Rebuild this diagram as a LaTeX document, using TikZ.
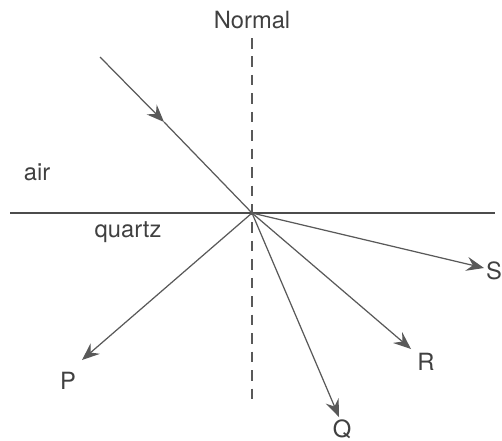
\documentclass[tikz,border=0pt]{standalone}
\usepackage{fontspec}
\setmainfont{TeX Gyre Heros}
\usetikzlibrary{arrows.meta,positioning,calc}

\begin{document}
\begin{tikzpicture}[x=0.02cm,y=-0.02cm,
  ray/.style={draw=black!65,line width=0.7pt},
  rayarrow/.style={ray,-{Stealth[length=10pt,width=8pt,inset=3.5pt]}},
  lbl/.style={font=\fontsize{13.5}{16}\selectfont,text=black!75,inner sep=0pt}]
\useasboundingbox (0,0) rectangle (502,440);
% Boundary and normal
\coordinate (O) at (252,213);
\coordinate (surfL) at (10,213);
\coordinate (surfR) at (495,213);
\coordinate (normT) at (252,38);
\coordinate (normB) at (252,400);
\draw[draw=black!70,line width=1.2pt] (surfL) -- (surfR);
\draw[ray,dashed,dash pattern=on 6pt off 4.5pt,line width=0.6pt] (normT) -- (normB);
% Incident ray, arrow half way
\coordinate (src) at (100,57);
\coordinate (mid) at (164,122);
\draw[rayarrow] (src) -- (mid);
\draw[ray] (mid) -- (O);
% Refracted rays
\coordinate (endP) at (82,360);
\coordinate (endQ) at (339,417);
\coordinate (endR) at (411,349);
\coordinate (endS) at (484,268);
\draw[rayarrow] (O) -- (endP);
\draw[rayarrow] (O) -- (endQ);
\draw[rayarrow] (O) -- (endR);
\draw[rayarrow] (O) -- (endS);
% Labels
\node[lbl] (normal) at (252,20) {Normal};
\node[lbl] (air) at (37,172) {air};
\node[lbl] (quartz) at (128,232) {quartz};
\node[lbl] (labP) at (68,381) {P};
\node[lbl] (labQ) at (342,429) {Q};
\node[lbl] (labR) at (426,362) {R};
\node[lbl] (labS) at (494,271) {S};
\end{tikzpicture}
\end{document}
